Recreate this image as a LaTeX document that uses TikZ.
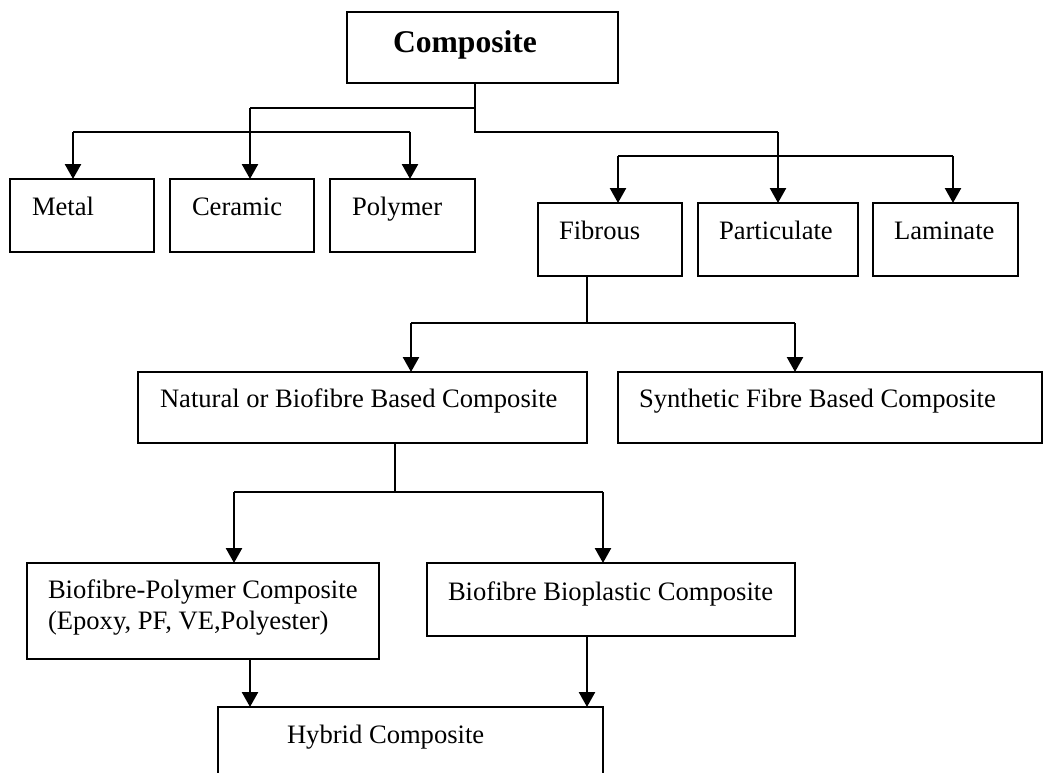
\documentclass[tikz,border=0pt]{standalone}
\usepackage{fontspec}
\setmainfont{Liberation Serif}
\usetikzlibrary{arrows.meta}
\begin{document}
\begin{tikzpicture}[x=1pt,y=-1pt,
  box/.style={draw,line width=1.6pt,inner sep=0pt,outer sep=0pt,rectangle},
  lbl/.style={anchor=base west,inner sep=0pt,outer sep=0pt,font=\fontsize{26.6}{30}\selectfont},
  wire/.style={line width=1.8pt},
  thinwire/.style={line width=1.4pt},
  arr/.style={line width=2.5pt,-{Triangle[width=16pt,length=15pt]}},
]
\useasboundingbox (0,0) rectangle (1044,773);
\clip (0,0) rectangle (1044,773);

% boxes
\node[box,minimum width=271pt,minimum height=71pt] (comp) at (482.5,47.5) {};
\node[box,minimum width=144pt,minimum height=73pt] (metal) at (82,215.5) {};
\node[box,minimum width=144pt,minimum height=73pt] (ceramic) at (242,215.5) {};
\node[box,minimum width=145pt,minimum height=73pt] (poly) at (402.5,215.5) {};
\node[box,minimum width=144pt,minimum height=73pt] (fibrous) at (610,239.5) {};
\node[box,minimum width=160pt,minimum height=73pt] (partic) at (778,239.5) {};
\node[box,minimum width=145pt,minimum height=73pt] (lamin) at (945.5,239.5) {};
\node[box,minimum width=449pt,minimum height=71pt] (natural) at (362.5,407.5) {};
\node[box,minimum width=424pt,minimum height=71pt] (synth) at (830,407.5) {};
\node[box,minimum width=352pt,minimum height=96pt] (bpc) at (203,611) {};
\node[box,minimum width=368pt,minimum height=73pt] (bbc) at (611,599.5) {};
\node[box,minimum width=385pt,minimum height=76pt] (hybrid) at (410.5,745) {};

% labels
\node[anchor=base west,inner sep=0pt,outer sep=0pt,font=\fontsize{31.6}{36}\selectfont\bfseries] (compt) at (393,53) {Composite};
\node[lbl] (metalt) at (32,215) {Metal};
\node[lbl] (ceramict) at (192,215) {Ceramic};
\node[lbl] (polyt) at (352,215) {Polymer};
\node[lbl] (fibroust) at (559,239) {Fibrous};
\node[lbl] (partict) at (719,239) {Particulate};
\node[lbl] (lamint) at (894,239) {Laminate};
\node[lbl] (naturalt) at (160,407) {Natural or Biofibre Based Composite};
\node[lbl] (syntht) at (639,407) {Synthetic Fibre Based Composite};
\node[lbl] (bpct1) at (48,598) {Biofibre-Polymer Composite};
\node[lbl] (bpct2) at (48,629) {(Epoxy, PF, VE,Polyester)};
\node[lbl] (bbct) at (448,600) {Biofibre Bioplastic Composite};
\node[lbl] (hybridt) at (287,743) {Hybrid Composite};

% junction coordinates
\coordinate (j1) at (475,108);
\coordinate (j2) at (475,132);
\coordinate (cA) at (250,108);
\coordinate (mA) at (73,132);
\coordinate (pA) at (410,132);
\coordinate (fA) at (618,156);
\coordinate (lA) at (953,156);
\coordinate (fJ) at (587,323);
\coordinate (nA) at (411,323);
\coordinate (sA) at (795,323);
\coordinate (nJ) at (395,492);
\coordinate (bA) at (234,492);
\coordinate (bbA) at (603,492);
\coordinate (h1) at (250,690);
\coordinate (h2) at (587,690);

% connectors from Composite
\draw[wire] (comp.south -| j2) -- (j2) -- (j2 -| partic.north);
\draw[wire] (j1) -- (cA);
\draw[arr] (cA) -- (cA |- ceramic.north);
\draw[wire] (mA) -- (pA);
\draw[arr] (mA) -- (mA |- metal.north);
\draw[arr] (pA) -- (pA |- poly.north);
\draw[arr] (j2 -| partic.north) -- (partic.north);
\draw[wire] (fA) -- (lA);
\draw[arr] (fA) -- (fA |- fibrous.north);
\draw[arr] (lA) -- (lA |- lamin.north);

% from Fibrous
\draw[thinwire] (fibrous.south -| fJ) -- (fJ);
\draw[wire] (nA) -- (sA);
\draw[arr] (nA) -- (nA |- natural.north);
\draw[arr] (sA) -- (sA |- synth.north);

% from Natural
\draw[thinwire] (natural.south -| nJ) -- (nJ);
\draw[wire] (bA) -- (bbA);
\draw[arr] (bA) -- (bA |- bpc.north);
\draw[arr] (bbA) -- (bbA |- bbc.north);

% to Hybrid
\draw[arr] (bpc.south -| h1) -- (hybrid.north -| h1);
\draw[arr] (bbc.south -| h2) -- (hybrid.north -| h2);
\end{tikzpicture}
\end{document}
